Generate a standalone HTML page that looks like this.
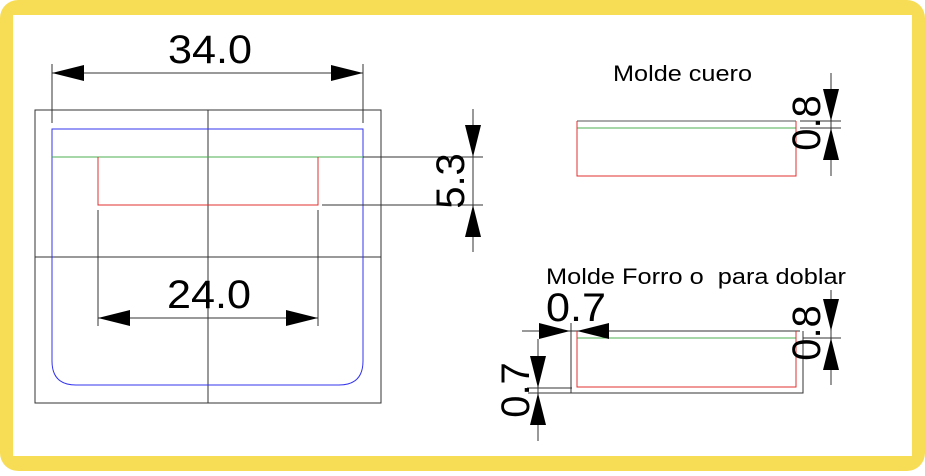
<!DOCTYPE html>
<html><head><meta charset="utf-8"><style>
html,body{margin:0;padding:0;background:#fff}
body{width:925px;height:471px;overflow:hidden}
text{font-family:"Liberation Sans",Arial,sans-serif;fill:#000}
</style></head><body>
<svg width="925" height="471" viewBox="0 0 925 471" xmlns="http://www.w3.org/2000/svg">
<rect x="0" y="0" width="925" height="471" rx="18" fill="#F7DD55"/>
<rect x="13" y="15" width="899" height="441" fill="#fff"/>
<g stroke-width="1" fill="none">
<rect x="35" y="110" width="346" height="293" stroke="#333"/>
<line x1="208" y1="110" x2="208" y2="403" stroke="#333"/>
<line x1="35" y1="257" x2="381" y2="257" stroke="#333"/>
<path d="M52 129 H363 V361 Q363 385 339 385 H76 Q52 385 52 361 Z" stroke="#3333ee"/>
<line x1="52" y1="157" x2="363" y2="157" stroke="#4caf50"/>
<line x1="363" y1="157" x2="483" y2="157" stroke="#333"/>
<path d="M98 157 V205 H318 V157" stroke="#e03030"/>
<line x1="322" y1="205" x2="483" y2="205" stroke="#333"/>
<line x1="52" y1="64" x2="52" y2="123" stroke="#333"/>
<line x1="363" y1="64" x2="363" y2="123" stroke="#333"/>
<line x1="52" y1="73" x2="363" y2="73" stroke="#333"/>
<line x1="98" y1="210" x2="98" y2="326" stroke="#333"/>
<line x1="318" y1="210" x2="318" y2="326" stroke="#333"/>
<line x1="98" y1="318" x2="318" y2="318" stroke="#333"/>
<line x1="473" y1="109" x2="473" y2="252" stroke="#333"/>
<line x1="577" y1="121" x2="796" y2="121" stroke="#555"/>
<line x1="577" y1="128" x2="796" y2="128" stroke="#4caf50"/>
<path d="M577 121 V176 H796 V121" stroke="#e03030"/>
<line x1="831" y1="73" x2="831" y2="176" stroke="#333"/>
<line x1="800" y1="121" x2="841" y2="121" stroke="#333"/>
<line x1="800" y1="128" x2="841" y2="128" stroke="#333"/>
<line x1="522" y1="331" x2="800" y2="331" stroke="#333"/>
<line x1="571" y1="323" x2="571" y2="393" stroke="#333"/>
<path d="M528 393 H803 V331" stroke="#333"/>
<line x1="527" y1="388" x2="572" y2="388" stroke="#333"/>
<line x1="577" y1="338" x2="796" y2="338" stroke="#4caf50"/>
<path d="M577 331 V387 H796 V331" stroke="#e03030"/>
<line x1="538" y1="339" x2="538" y2="441" stroke="#333"/>
<line x1="831" y1="290" x2="831" y2="385" stroke="#333"/>
<line x1="803" y1="338" x2="841" y2="338" stroke="#333"/>
</g>
<g fill="#000">
<polygon points="52,73 84,65 84,81"/>
<polygon points="363,73 331,65 331,81"/>
<polygon points="98,318 130,310 130,326"/>
<polygon points="318,318 286,310 286,326"/>
<polygon points="473,157 465,125 481,125"/>
<polygon points="473,205 465,237 481,237"/>
<polygon points="831,121 823,89 839,89"/>
<polygon points="831,128 823,160 839,160"/>
<polygon points="831,331 823,299 839,299"/>
<polygon points="831,338 823,370 839,370"/>
<polygon points="570,331 539,323 539,339"/>
<polygon points="577,331 609,323 609,339"/>
<polygon points="538,388 530,356 546,356"/>
<polygon points="538,393 530,425 546,425"/>
</g>
<text x="168" y="63" font-size="40" textLength="84" lengthAdjust="spacingAndGlyphs">34.0</text>
<text x="167" y="308" font-size="40" textLength="84" lengthAdjust="spacingAndGlyphs">24.0</text>
<text x="0" y="0" font-size="40" text-anchor="middle" transform="translate(464,181) rotate(-90)">5.3</text>
<text x="613" y="81" font-size="22" textLength="139" lengthAdjust="spacingAndGlyphs">Molde cuero</text>
<text x="0" y="0" font-size="40" text-anchor="middle" transform="translate(820,123) rotate(-90)">0.8</text>
<text x="546" y="284" font-size="22" textLength="300" lengthAdjust="spacingAndGlyphs" xml:space="preserve">Molde Forro o  para doblar</text>
<text x="546" y="321" font-size="40" textLength="60" lengthAdjust="spacingAndGlyphs">0.7</text>
<text x="0" y="0" font-size="40" text-anchor="middle" transform="translate(820,333) rotate(-90)">0.8</text>
<text x="0" y="0" font-size="40" text-anchor="middle" transform="translate(529,390) rotate(-90)">0.7</text>
</svg>
</body></html>
